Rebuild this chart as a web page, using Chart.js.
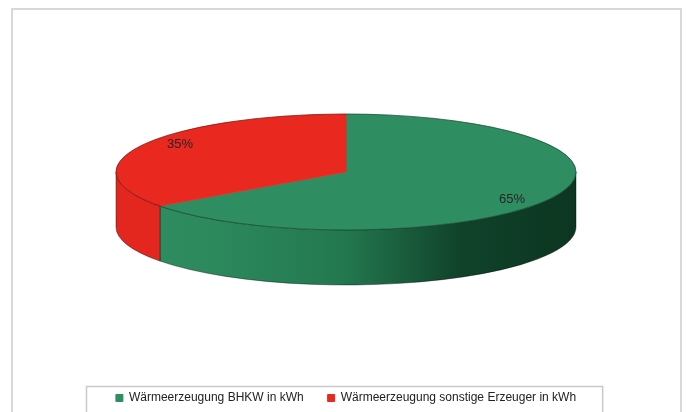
<!DOCTYPE html>
<html>
<head>
<meta charset="utf-8">
<script src="https://cdn.jsdelivr.net/npm/chart.js@4.4.1/dist/chart.umd.min.js"></script>
<style>
  html, body { margin: 0; padding: 0; background: #fff; overflow: hidden; }
  #frame { position: absolute; left: 11px; top: 8px; width: 671px; height: 440px; border: 2px solid #d8d8d8; box-sizing: border-box; }
  #wrap { position: absolute; left: 0; top: -24px; width: 687px; height: 438px; }
</style>
</head>
<body>
<div id="frame"></div>
<div id="wrap"><canvas id="chart"></canvas></div>
<script>
// data
const categories = ["Wärmeerzeugung BHKW in kWh", "Wärmeerzeugung sonstige Erzeuger in kWh"];
const shares = [65, 35];
const topColors = ["#2e8e62", "#e9281f"];

// look of the fake 3d disc
const TILT = 0.252;  // vertical squash of the pie face
const DEPTH = 55;    // thickness of the disc in px

function wallFill(ctx, i, x, r) {
  if (i === 1) return "#e4271e";
  const g = ctx.createLinearGradient(x - r, 0, x + r, 0);
  g.addColorStop(0, "#2f8e61");
  g.addColorStop(0.2, "#2c8a5d");
  g.addColorStop(0.5, "#23774f");
  g.addColorStop(0.75, "#10422a");
  g.addColorStop(1, "#0c3621");
  return g;
}

const pie3d = {
  id: "pie3d",
  beforeDatasetsDraw(chart) {
    const ctx = chart.ctx;
    const arcs = chart.getDatasetMeta(0).data;
    if (!arcs.length) return;
    const { x, y, outerRadius: r } = arcs[0];
    const ry = r * TILT;

    // side walls, only the half that faces the viewer
    arcs.forEach((arc, i) => {
      const a0 = Math.max(arc.startAngle, 0);
      const a1 = Math.min(arc.endAngle, Math.PI);
      if (a1 <= a0) return;
      ctx.save();
      ctx.beginPath();
      ctx.ellipse(x, y, r, ry, 0, a0, a1, false);
      ctx.ellipse(x, y + DEPTH, r, ry, 0, a1, a0, true);
      ctx.closePath();
      ctx.fillStyle = wallFill(ctx, i, x, r);
      ctx.fill();
      ctx.strokeStyle = "rgba(0,0,0,0.5)";
      ctx.lineWidth = 0.8;
      ctx.stroke();
      ctx.restore();
    });

    // squash the flat pie into an ellipse
    ctx.save();
    ctx.translate(x, y);
    ctx.scale(1, TILT);
    ctx.translate(-x, -y);
  },
  afterDatasetsDraw(chart) {
    const ctx = chart.ctx;
    const arcs = chart.getDatasetMeta(0).data;
    if (!arcs.length) return;
    ctx.restore();
    const { x, y, outerRadius: r } = arcs[0];

    ctx.save();
    ctx.beginPath();
    ctx.ellipse(x, y, r, r * TILT, 0, 0, Math.PI * 2);
    ctx.strokeStyle = "rgba(0,0,0,0.45)";
    ctx.lineWidth = 0.8;
    ctx.stroke();

    const total = shares.reduce((a, b) => a + b, 0);
    ctx.font = "13px 'Liberation Sans', Arial, sans-serif";
    ctx.fillStyle = "#262626";
    ctx.textAlign = "center";
    ctx.textBaseline = "middle";
    arcs.forEach((arc, i) => {
      const mid = (arc.startAngle + arc.endAngle) / 2;
      const lx = x + Math.cos(mid) * r * 0.81;
      const ly = y + Math.sin(mid) * r * 0.81 * TILT * 1.3;
      ctx.fillText(Math.round(shares[i] / total * 100) + "%", lx, ly);
    });
    ctx.restore();
  },
  afterDraw(chart) {
    // frame round the legend
    const boxes = chart.legend.legendHitBoxes;
    if (!boxes || !boxes.length) return;
    const ctx = chart.ctx;
    const left = Math.min(...boxes.map(b => b.left)) - 30;
    const right = Math.max(...boxes.map(b => b.left + b.width)) + 26;
    const top = Math.round(boxes[0].top + boxes[0].height / 2 - 12);
    ctx.save();
    ctx.strokeStyle = "#c9c9c9";
    ctx.lineWidth = 1.5;
    ctx.strokeRect(Math.round(left) + 0.5, top + 0.5, right - left, 40);
    ctx.restore();
  }
};

new Chart(document.getElementById("chart"), {
  type: "pie",
  data: {
    labels: categories,
    datasets: [{
      data: shares,
      backgroundColor: topColors,
      borderColor: topColors,
      borderWidth: 1,
      clip: false
    }]
  },
  options: {
    responsive: true,
    maintainAspectRatio: false,
    animation: false,
    events: [],
    radius: 230,
    layout: { padding: { top: 0, left: 5, right: 0, bottom: 0 } },
    plugins: {
      tooltip: { enabled: false },
      legend: {
        position: "bottom",
        labels: {
          boxWidth: 7,
          boxHeight: 7,
          padding: 24,
          color: "#222",
          font: { family: "'Liberation Sans', Arial, sans-serif", size: 12 }
        }
      }
    }
  },
  plugins: [pie3d]
});
</script>
</body>
</html>
